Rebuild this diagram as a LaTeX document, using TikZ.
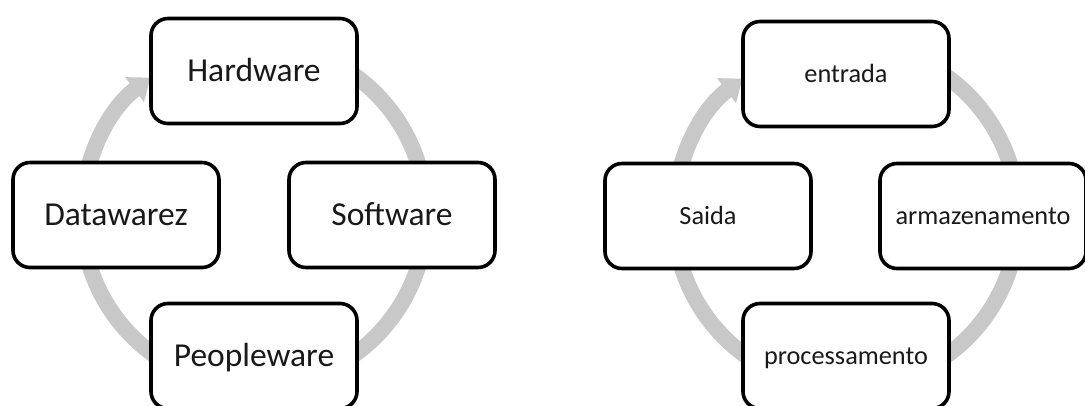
\documentclass[tikz,border=0pt]{standalone}
\usepackage{fontspec}
\setmainfont{Carlito}
\usetikzlibrary{arrows.meta,calc}
\definecolor{ringgray}{RGB}{200,200,200}
\definecolor{textdark}{RGB}{25,25,25}
\tikzset{
  cyclebox/.style={draw=black, line width=3.6pt, rounded corners=17pt, fill=white,
    minimum width=206pt, minimum height=105pt, inner sep=0pt,
    text=textdark, text depth=0pt},
  bigtext/.style={font=\fontsize{33.5}{40}\selectfont, text height=21.5pt},
  smalltext/.style={font=\fontsize{26.3}{31}\selectfont, text height=16.8pt},
  ring/.style={draw=ringgray, line width=16pt,
    -{Triangle[width=30pt,length=20pt]}}
}
\begin{document}
\begin{tikzpicture}[x=1pt,y=1pt]
  \useasboundingbox (0,0) rectangle (1085,-405);
  \clip (0,0) rectangle (1085,-405);

  % ---- left cycle: the four components of a computer system ----
  \coordinate (cL) at (254,-215);
  \draw[ring] ($(cL)+(90:172)$) arc[start angle=90, end angle=-233, radius=172];
  \node[cyclebox, bigtext] (hw) at (254,-71)  {Hardware};
  \node[cyclebox, bigtext] (sw) at (392,-215) {Software};
  \node[cyclebox, bigtext] (pw) at (254,-356) {Peopleware};
  \node[cyclebox, bigtext] (dw) at (116,-215) {Datawarez};

  % ---- right cycle: the data processing cycle ----
  \coordinate (cR) at (846,-216);
  \draw[ring] ($(cR)+(90:172)$) arc[start angle=90, end angle=-233, radius=172];
  \node[cyclebox, smalltext] (en) at (846,-74)  {entrada};
  \node[cyclebox, smalltext] (ar) at (983,-216) {armazenamento};
  \node[cyclebox, smalltext] (pr) at (846,-356) {processamento};
  \node[cyclebox, smalltext] (sa) at (708,-216) {Saida};
\end{tikzpicture}
\end{document}
